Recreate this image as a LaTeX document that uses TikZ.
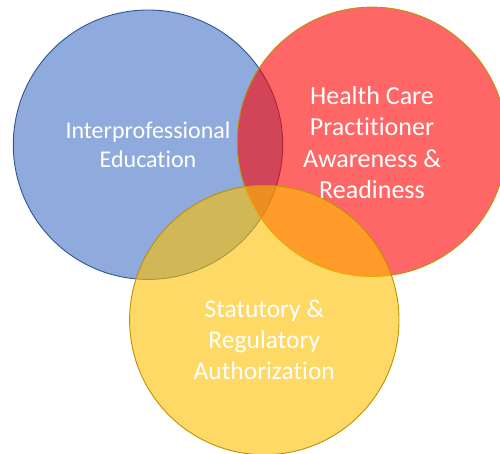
\documentclass[tikz,border=0pt]{standalone}
\usepackage{fontspec}
\setmainfont{Carlito}[Ligatures={NoCommon}]
\usetikzlibrary{positioning}
\definecolor{setblue}{HTML}{4472C4}
\definecolor{setblueline}{HTML}{2F5597}
\definecolor{setred}{HTML}{FF0000}
\definecolor{setyellow}{HTML}{FFC000}
\definecolor{setgold}{HTML}{BF9000}

\begin{document}
\begin{tikzpicture}[x=1pt, y=-1pt,
  venn/.style={circle, minimum size=269.4pt, inner sep=0pt, fill opacity=0.6, line width=0.9pt},
  venntext/.style={text=white, align=center, font=\fontsize{24}{29.5}\selectfont}]
\useasboundingbox (0,0) rectangle (500,453);
\clip (0,0) rectangle (500,453);
% the three sets, drawn in stacking order
\node[venn, fill=setblue, draw=setblueline] (ipe) at (148,144.7) {};
\node[venn, fill=setred, draw=setgold] (hcp) at (372,141.8) {};
\node[venn, fill=setyellow, draw=setgold] (sra) at (264.3,320) {};
% labels
\node[venntext] (ipelabel) at (ipe) {Interprofessional\\Education};
\node[venntext, font=\fontsize{26}{31.5}\selectfont] (hcplabel) at ([yshift=-1pt]hcp) {Health Care\\Practitioner\\Awareness \&\\Readiness};
\node[venntext, font=\fontsize{25.5}{31}\selectfont] (sralabel) at ([yshift=-20pt]sra) {Statutory \&\\Regulatory\\Authorization};
\end{tikzpicture}
\end{document}
